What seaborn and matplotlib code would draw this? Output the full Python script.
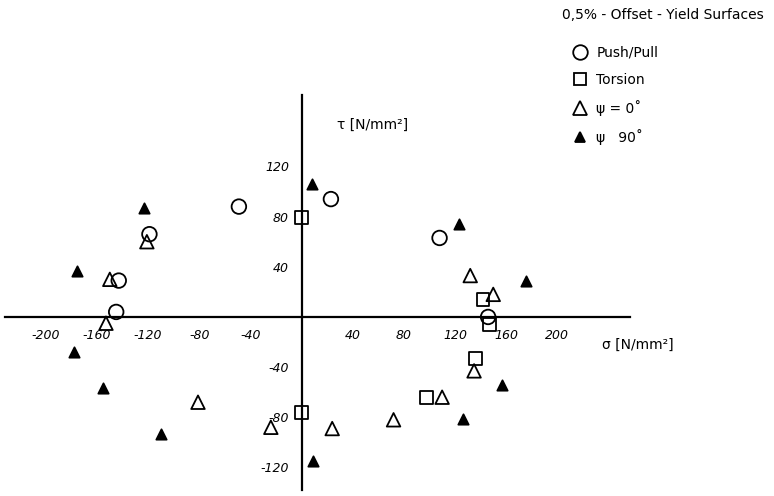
import matplotlib
matplotlib.use("Agg")
import matplotlib.pyplot as plt
import numpy as np
import pandas as pd
import seaborn as sns
from matplotlib.lines import Line2D

# sigma [N/mm^2], tau [N/mm^2] per load series
push_pull_sigma = [-49, -119, -143, -145, 23, 108, 146]
push_pull_tau = [88, 66, 29, 4, 94, 63, 0]

torsion_sigma = [0, 142, 147, 0, 98, 136]
torsion_tau = [79, 14, -6, -76, -64, -33]

phi0_sigma = [-121, -150, -153, -81, -24, 24, 72, 110, 132, 135, 150]
phi0_tau = [60, 30, -5, -68, -88, -89, -82, -64, 33, -43, 18]

phi90_sigma = [-123, -176, 8, 123, 176, -178, -155, -110, 9, 126, 157]
phi90_tau = [87, 37, 106, 74, 29, -28, -57, -93, -115, -81, -54]

x_ticks = [-200, -160, -120, -80, -40, 40, 80, 120, 160, 200]
y_ticks = [-120, -80, -40, 40, 80, 120]

series_names = ["Push/Pull", "Torsion", "ψ = 0˚", "ψ   90˚"]

frames = []
for name, xs, ys in zip(series_names,
                        [push_pull_sigma, torsion_sigma, phi0_sigma, phi90_sigma],
                        [push_pull_tau, torsion_tau, phi0_tau, phi90_tau]):
    frames.append(pd.DataFrame({"sigma": xs, "tau": ys, "series": name}))
df = pd.concat(frames, ignore_index=True)

sns.set_style("white")
plt.rcParams["font.family"] = ["DejaVu Sans"]
plt.rcParams["text.color"] = "black"
plt.rcParams["xtick.color"] = "black"
plt.rcParams["ytick.color"] = "black"

fig = plt.figure(figsize=(7.74, 4.96), dpi=100)
ax = fig.add_axes([5 / 774, 1 - 490 / 496, 625 / 774, 395 / 496])

styles = {
    "Push/Pull": dict(marker="o", facecolor="none", size=110),
    "Torsion": dict(marker="s", facecolor="none", size=85),
    "ψ = 0˚": dict(marker="^", facecolor="none", size=95),
    "ψ   90˚": dict(marker="^", facecolor="black", size=55),
}
for name in series_names:
    st = styles[name]
    sub = df[df["series"] == name]
    sns.scatterplot(data=sub, x="sigma", y="tau", ax=ax, marker=st["marker"],
                    s=st["size"], facecolors=st["facecolor"], edgecolor="black",
                    linewidth=1.3, legend=False)

ax.set_xlim(-232, 257)
ax.set_ylim(-138, 177)
for side in ["top", "right"]:
    ax.spines[side].set_visible(False)
ax.spines["left"].set_position(("data", 0))
ax.spines["bottom"].set_position(("data", 0))
for side in ["left", "bottom"]:
    ax.spines[side].set_linewidth(1.6)
    ax.spines[side].set_color("black")
ax.set_xticks(x_ticks)
ax.set_yticks(y_ticks)
ax.set_xticklabels([str(v) for v in x_ticks], style="italic", fontsize=9, color="black")
ax.set_yticklabels([str(v) for v in y_ticks], style="italic", fontsize=9, color="black")
ax.tick_params(axis="both", direction="inout", length=6, width=1.2, pad=6, colors="black")
ax.set_xlabel("")
ax.set_ylabel("")
ax.patch.set_alpha(0)

ax.text(28, 153, "τ [N/mm²]", fontsize=10, ha="left", va="center", color="black")
ax.text(235, -22, "σ [N/mm²]", fontsize=10, ha="left", va="center", color="black")

fig.text(562 / 774, 1 - 15 / 496, "0,5% - Offset - Yield Surfaces", fontsize=10,
         ha="left", va="center", color="black")
handles = []
for name in series_names:
    st = styles[name]
    handles.append(Line2D([], [], linestyle="none", marker=st["marker"],
                          markerfacecolor=st["facecolor"], markeredgecolor="black",
                          markersize=np.sqrt(st["size"]), markeredgewidth=1.3,
                          label=name))
leg = fig.legend(handles=handles, loc="upper left",
                 bbox_to_anchor=(559 / 774, 1 - 33 / 496),
                 frameon=False, fontsize=10, labelspacing=0.95, handletextpad=0.6,
                 handlelength=1.2)
for t in leg.get_texts():
    t.set_color("black")

fig.savefig("out.png", dpi=100)
